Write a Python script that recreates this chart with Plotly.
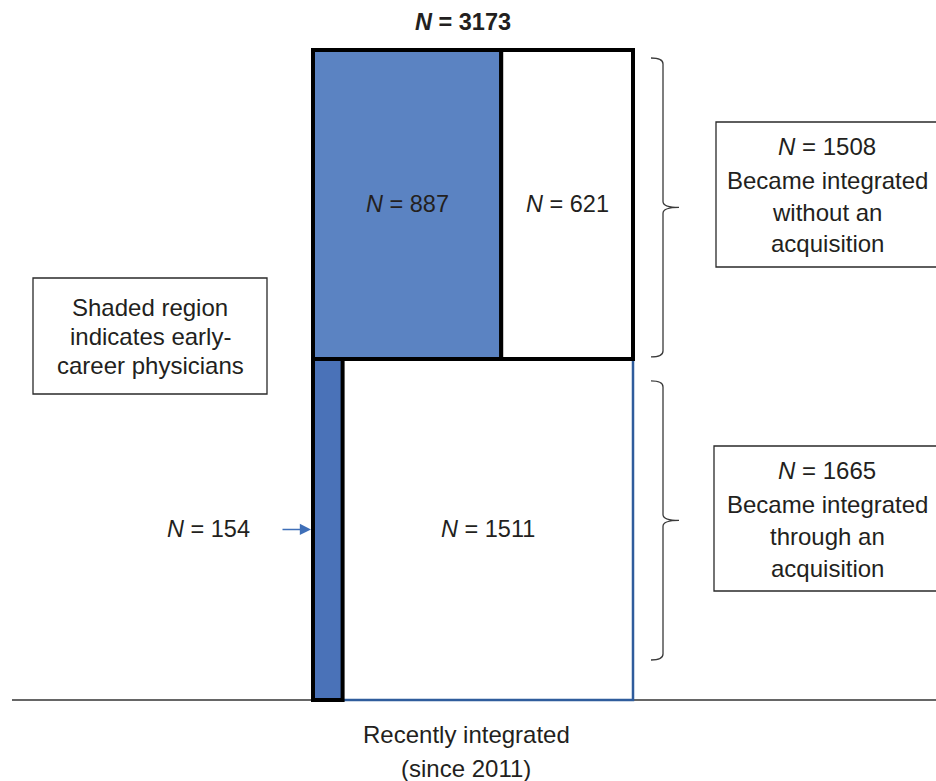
import plotly.graph_objects as go

# ---- data ----
total_n = 3173
groups = ["Became integrated without an acquisition", "Became integrated through an acquisition"]
group_n = [1508, 1665]
early_career_n = [887, 154]
other_n = [621, 1511]
group_box_lines = [
    ["<i>N</i> = 1508", "Became integrated", "without an", "acquisition"],
    ["<i>N</i> = 1665", "Became integrated", "through an", "acquisition"],
]
note_lines = ["Shaded region", "indicates early-", "career physicians"]
x_label_lines = ["Recently integrated", "(since 2011)"]

# ---- style / layout ----
W, H = 936, 781
FONT = "Liberation Sans, Arial, Helvetica, sans-serif"
TXT = "#231f20"
BLUE_TOP = "#5b83c2"
BLUE_STRIP = "#4a72b8"
BLUE_EDGE = "#2f5c9c"
FS = 23.5

# axes: x = share within group (0..1), y = cumulative count
px_per_share = 320.0
x_left_px = 313.0
x0 = -x_left_px / px_per_share
x1 = x0 + W / px_per_share
bar_top_px, bar_bot_px = 50.0, 700.0
ppu = (bar_bot_px - bar_top_px) / total_n
y0 = -(H - bar_bot_px) / ppu
y1 = total_n + bar_top_px / ppu


def px2s(px):
    return (px - x_left_px) / px_per_share


def ppx(px):
    return px / W


def ppy(py):
    return 1 - py / H


def font(size=FS, bold=False):
    return dict(size=size, color=TXT, family=FONT)


def text_ann(xref, yref, x, y, text, size=FS):
    return dict(xref=xref, yref=yref, x=x, y=y, text=text, showarrow=False,
                xanchor="center", yanchor="middle", font=font(size))


# stacking: acquisition group at bottom, non-acquisition on top
bottom_lo, bottom_hi = 0, group_n[1]
top_lo, top_hi = group_n[1], group_n[1] + group_n[0]

shapes = []
annotations = []

# bottom row (through acquisition)
strip_w = early_career_n[1] / group_n[1]
shapes.append(dict(type="rect", xref="x", yref="y", x0=0, x1=1, y0=bottom_lo, y1=bottom_hi,
                   fillcolor="white", line=dict(color=BLUE_EDGE, width=2.5), layer="above"))
shapes.append(dict(type="rect", xref="x", yref="y", x0=0, x1=strip_w, y0=bottom_lo, y1=bottom_hi,
                   fillcolor=BLUE_STRIP, line=dict(color="black", width=4), layer="above"))

# top row (without acquisition)
top_w = early_career_n[0] / group_n[0]
shapes.append(dict(type="rect", xref="x", yref="y", x0=0, x1=top_w, y0=top_lo, y1=top_hi,
                   fillcolor=BLUE_TOP, line=dict(color="black", width=4), layer="above"))
shapes.append(dict(type="rect", xref="x", yref="y", x0=top_w, x1=1, y0=top_lo, y1=top_hi,
                   fillcolor="white", line=dict(color="black", width=4), layer="above"))

# ground line
shapes.append(dict(type="line", xref="paper", yref="y", x0=ppx(12), x1=1, y0=0, y1=0,
                   line=dict(color="#333333", width=1.5), layer="below"))


# braces
def brace(yt, yb):
    xa = px2s(651)
    xv = px2s(663)
    xt = px2s(679)
    r = 6 / ppu
    ym = (yt + yb) / 2
    return (f"M {xa},{yt} Q {xv},{yt} {xv},{yt - r} L {xv},{ym + r} "
            f"Q {xv},{ym} {xt},{ym} Q {xv},{ym} {xv},{ym - r} "
            f"L {xv},{yb + r} Q {xv},{yb} {xa},{yb}")


shapes.append(dict(type="path", xref="x", yref="y",
                   path=brace(top_hi - 8 / ppu, top_lo + 2 / ppu),
                   line=dict(color="#3a3a3a", width=1.3)))
shapes.append(dict(type="path", xref="x", yref="y",
                   path=brace(bottom_hi - 22 / ppu, bottom_lo + 40 / ppu),
                   line=dict(color="#3a3a3a", width=1.3)))

# text inside rects
annotations.append(text_ann("x", "y", top_w / 2, (top_lo + top_hi) / 2,
                            f"<i>N</i> = {early_career_n[0]}"))
annotations.append(text_ann("x", "y", (top_w + 1) / 2, (top_lo + top_hi) / 2,
                            f"<i>N</i> = {other_n[0]}"))
annotations.append(text_ann("x", "y", (strip_w + 1) / 2, (bottom_lo + bottom_hi) / 2,
                            f"<i>N</i> = {other_n[1]}"))

# N=154 label with arrow
annotations.append(dict(xref="x", yref="y", x=0, y=(bottom_lo + bottom_hi) / 2,
                        text="", showarrow=True, ax=-32, ay=0, arrowhead=2, arrowsize=1.6,
                        arrowwidth=1.4, arrowcolor="#3f6fb8", standoff=2))
annotations.append(text_ann("x", "y", px2s(208), (bottom_lo + bottom_hi) / 2,
                            f"<i>N</i> = {early_career_n[1]}"))

# title
annotations.append(text_ann("paper", "paper", ppx(463), ppy(22),
                            f"<b><i>N</i> = {total_n}</b>"))

# side boxes
boxes = [
    dict(x0=716, x1=950, y0=122, y1=267, cx=827, lines=group_box_lines[0], ys=[147, 180, 212, 244]),
    dict(x0=714, x1=950, y0=446, y1=591, cx=827, lines=group_box_lines[1], ys=[470, 504, 536, 568]),
    dict(x0=33, x1=267, y0=278, y1=394, cx=150, lines=note_lines, ys=[307, 336, 365]),
]
for b in boxes:
    shapes.append(dict(type="rect", xref="paper", yref="paper", x0=ppx(b["x0"]), x1=ppx(b["x1"]),
                       y0=ppy(b["y1"]), y1=ppy(b["y0"]), fillcolor="white",
                       line=dict(color="#2a2a2a", width=1.3)))
    for t, yy in zip(b["lines"], b["ys"]):
        annotations.append(text_ann("paper", "paper", ppx(b["cx"]), ppy(yy), t, size=24))

# bottom label
for t, yy in zip(x_label_lines, [734, 768]):
    annotations.append(text_ann("paper", "paper", ppx(466), ppy(yy), t, size=24))

fig = go.Figure()
fig.add_trace(go.Scatter(x=[0, 1], y=[0, total_n], mode="markers",
                         marker=dict(opacity=0), hoverinfo="skip", showlegend=False))
fig.update_layout(
    width=W, height=H,
    margin=dict(l=0, r=0, t=0, b=0),
    paper_bgcolor="white", plot_bgcolor="white",
    xaxis=dict(range=[x0, x1], visible=False, fixedrange=True),
    yaxis=dict(range=[y0, y1], visible=False, fixedrange=True),
    shapes=shapes, annotations=annotations, showlegend=False,
)
fig.write_html("out.html", config={"displayModeBar": False},
               post_script="document.body.style.margin='0';document.body.style.overflow='hidden';")
